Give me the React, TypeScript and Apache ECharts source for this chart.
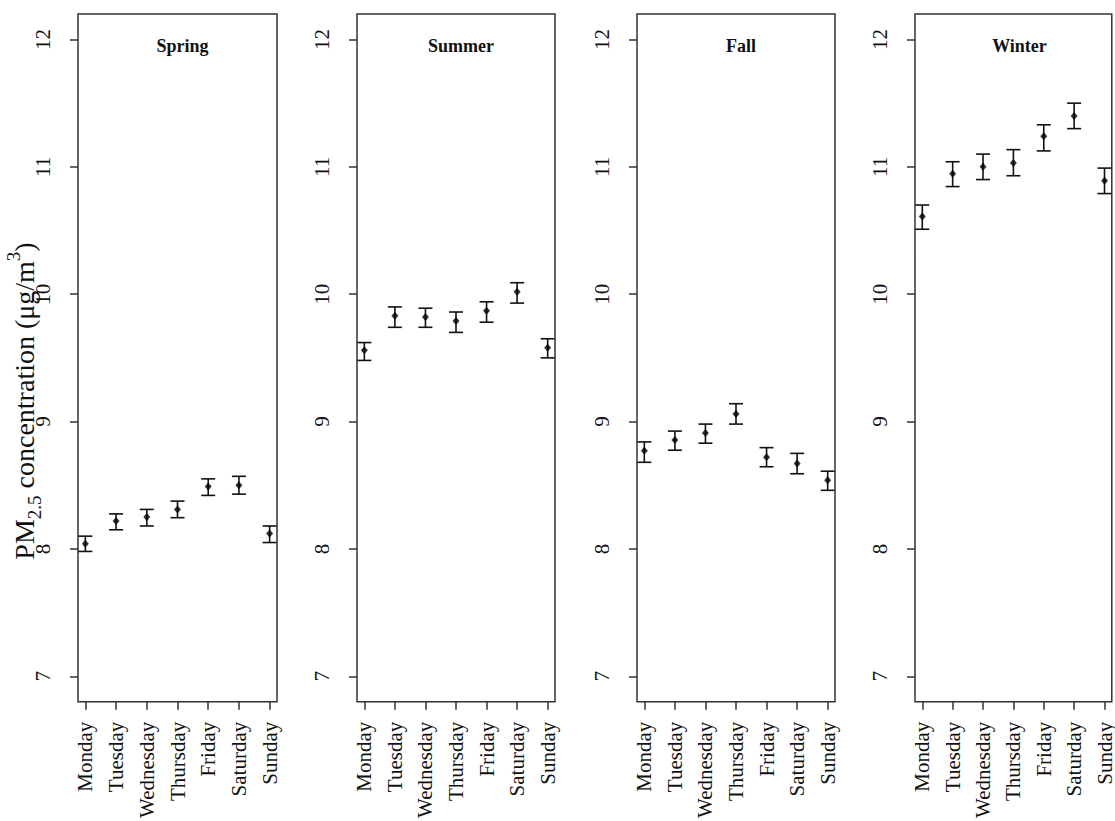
import React, { useEffect, useRef } from 'react';
import * as echarts from 'echarts';

const days = ['Monday', 'Tuesday', 'Wednesday', 'Thursday', 'Friday', 'Saturday', 'Sunday'];
const dayPositions = [1, 2, 3, 4, 5, 6, 7];
const yTicks = [7, 8, 9, 10, 11, 12];
const seasons = ['Spring', 'Summer', 'Fall', 'Winter'];

const springMean = [8.04, 8.22, 8.25, 8.31, 8.49, 8.5, 8.12];
const springLow = [7.98, 8.15, 8.18, 8.245, 8.42, 8.43, 8.05];
const springHigh = [8.1, 8.275, 8.31, 8.375, 8.55, 8.57, 8.18];

const summerMean = [9.56, 9.83, 9.82, 9.79, 9.87, 10.02, 9.58];
const summerLow = [9.48, 9.74, 9.74, 9.7, 9.78, 9.93, 9.5];
const summerHigh = [9.62, 9.9, 9.89, 9.86, 9.94, 10.09, 9.65];

const fallMean = [8.77, 8.855, 8.91, 9.06, 8.72, 8.67, 8.54];
const fallLow = [8.68, 8.775, 8.83, 8.98, 8.645, 8.59, 8.46];
const fallHigh = [8.84, 8.925, 8.98, 9.14, 8.795, 8.75, 8.61];

const winterMean = [10.61, 10.945, 11.0, 11.03, 11.24, 11.4, 10.89];
const winterLow = [10.51, 10.845, 10.9, 10.93, 11.125, 11.3, 10.79];
const winterHigh = [10.7, 11.04, 11.1, 11.135, 11.33, 11.5, 10.99];

const means = [springMean, summerMean, fallMean, winterMean];
const lows = [springLow, summerLow, fallLow, winterLow];
const highs = [springHigh, summerHigh, fallHigh, winterHigh];

const FONT = '"Liberation Serif", "Times New Roman", serif';

export default function App() {
  const ref = useRef<HTMLDivElement>(null);
  useEffect(() => {
    const chart = echarts.init(ref.current!, null, { renderer: 'svg' });
    const lefts = [78, 357, 637, 915];
    const widths = [199, 198, 198, 201];
    const top = 14;
    const height = 689;

    const grids = seasons.map((_, i) => ({
      left: lefts[i],
      top,
      width: widths[i],
      height,
      show: true,
      borderColor: '#333',
      borderWidth: 1.5,
      backgroundColor: 'transparent',
    }));

    const xAxes = seasons.map((_, i) => ({
      type: 'value',
      gridIndex: i,
      min: 0.76,
      max: 7.24,
      axisLine: { show: false },
      splitLine: { show: false },
      axisTick: {
        show: true,
        length: 8,
        customValues: dayPositions,
        lineStyle: { color: '#333', width: 1.5 },
      },
      axisLabel: {
        show: true,
        rotate: 90,
        margin: 20,
        customValues: dayPositions,
        formatter: (v: number) => days[Math.round(v) - 1] ?? '',
        fontFamily: FONT,
        fontSize: 21,
        color: '#111',
      },
    }));

    const yAxes = seasons.map((_, i) => ({
      type: 'value',
      gridIndex: i,
      min: 6.8,
      max: 12.2,
      axisLine: { show: false },
      splitLine: { show: false },
      axisTick: {
        show: true,
        length: 8,
        customValues: yTicks,
        lineStyle: { color: '#333', width: 1.5 },
      },
      axisLabel: {
        show: true,
        rotate: 90,
        margin: 25,
        customValues: yTicks,
        fontFamily: FONT,
        fontSize: 21,
        color: '#111',
      },
    }));

    const series: any[] = [];
    seasons.forEach((_, i) => {
      series.push({
        type: 'custom',
        xAxisIndex: i,
        yAxisIndex: i,
        silent: true,
        clip: false,
        data: dayPositions.map((d, k) => [d, lows[i][k], highs[i][k]]),
        renderItem: (params: any, api: any) => {
          const x = api.value(0);
          const lo = api.coord([x, api.value(1)]);
          const hi = api.coord([x, api.value(2)]);
          const w = 7;
          const style = { stroke: '#111', lineWidth: 1.6 };
          return {
            type: 'group',
            children: [
              { type: 'line', shape: { x1: lo[0], y1: lo[1], x2: hi[0], y2: hi[1] }, style },
              { type: 'line', shape: { x1: lo[0] - w, y1: lo[1], x2: lo[0] + w, y2: lo[1] }, style },
              { type: 'line', shape: { x1: hi[0] - w, y1: hi[1], x2: hi[0] + w, y2: hi[1] }, style },
            ],
          };
        },
      });
      series.push({
        type: 'scatter',
        xAxisIndex: i,
        yAxisIndex: i,
        symbol: 'diamond',
        symbolSize: [7, 8],
        itemStyle: { color: '#000' },
        silent: true,
        z: 5,
        data: dayPositions.map((d, k) => [d, means[i][k]]),
      });
    });

    const titles = seasons.map((s, i) => ({
      text: s,
      left: lefts[i] + widths[i] / 2 - (i === 3 ? 1 : 0),
      top: 32,
      textAlign: 'center',
      textStyle: { fontFamily: FONT, fontSize: 18, fontWeight: 'bold', color: '#111' },
    }));

    chart.setOption({
      animation: false,
      backgroundColor: '#fff',
      title: titles,
      grid: grids,
      xAxis: xAxes,
      yAxis: yAxes,
      series,
      graphic: [
        {
          type: 'text',
          x: 24,
          y: 401,
          rotation: Math.PI / 2,
          style: {
            text: '{a|PM}{b|2.5}{a| concentration (μg/m}{c|3}{a|)}',
            align: 'center',
            verticalAlign: 'middle',
            fill: '#111',
            rich: {
              a: { fontFamily: FONT, fontSize: 28, lineHeight: 40, verticalAlign: 'middle', fill: '#111' },
              b: { fontFamily: FONT, fontSize: 19, lineHeight: 19, verticalAlign: 'bottom', fill: '#111' },
              c: { fontFamily: FONT, fontSize: 19, lineHeight: 19, verticalAlign: 'top', fill: '#111' },
            },
          },
        },
      ],
    });
    return () => chart.dispose();
  }, []);
  return (
    <div
      ref={ref}
      style={{ position: 'fixed', left: 0, top: 0, width: 1115, height: 821, background: '#fff' }}
    />
  );
}
